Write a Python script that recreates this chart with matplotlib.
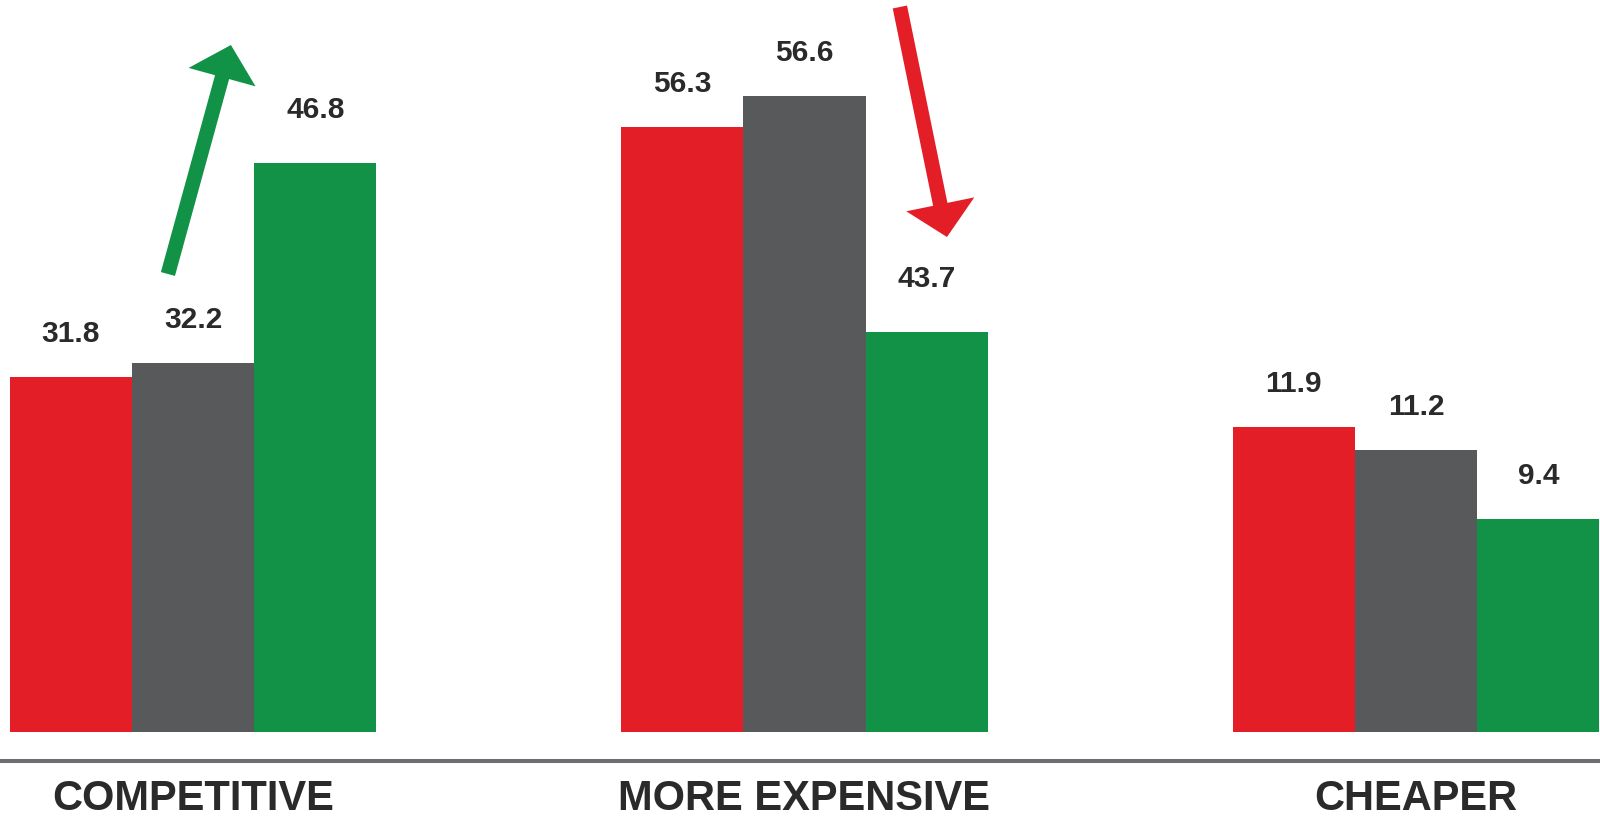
import matplotlib
matplotlib.use("Agg")
import matplotlib.pyplot as plt
from matplotlib.patches import FancyArrowPatch
import numpy as np

# ---- data ----
categories = ["COMPETITIVE", "MORE EXPENSIVE", "CHEAPER"]
red_values = [31.8, 56.3, 11.9]
gray_values = [32.2, 56.6, 11.2]
green_values = [46.8, 43.7, 9.4]
# bar heights as drawn in the infographic (not proportional to the labels)
red_heights = [35.5, 60.5, 30.5]
gray_heights = [36.9, 63.6, 28.2]
green_heights = [56.9, 40.0, 21.3]

# ---- style ----
RED = "#e31e26"
GRAY = "#58595b"
GREEN = "#129247"
TXT = "#2a2a2a"
FONT = ["Liberation Sans", "DejaVu Sans"]

fig = plt.figure(figsize=(16, 8.2), dpi=100)
ax = fig.add_axes([0, 0, 1, 1])
ax.set_xlim(-0.3156, 2.3009)
ax.set_ylim(-8.7, 73.3)
ax.axis("off")

x = np.arange(len(categories))
w = 0.2
series = [
    (red_heights, red_values, RED, -w),
    (gray_heights, gray_values, GRAY, 0.0),
    (green_heights, green_values, GREEN, w),
]
for si, (heights, values, color, off) in enumerate(series):
    ax.bar(x + off, heights, width=w, color=color, linewidth=0)
    for i, (h, v) in enumerate(zip(heights, values)):
        gap = 3.6
        if si == 2 and i < 2:
            gap = 4.6
        ax.text(x[i] + off, h + gap, f"{v:.1f}", ha="center", va="baseline",
                fontsize=21.5, fontweight="bold", color=TXT, family=FONT)

# baseline rule
ax.axhline(-2.9, color="#6d6e71", linewidth=2.9)

# category labels
for i, c in enumerate(categories):
    ax.text(x[i], -7.75, c, ha="center", va="baseline", fontsize=30,
            fontweight="bold", color=TXT, family=FONT)

# arrows
style = "simple,head_width=5.0,head_length=2.4,tail_width=1.05"
arr_up = FancyArrowPatch((-0.041, 45.8), (0.062, 68.7), arrowstyle=style,
                         mutation_scale=10, color=GREEN, shrinkA=0, shrinkB=0,
                         linewidth=0)
arr_dn = FancyArrowPatch((1.156, 72.5), (1.233, 49.5), arrowstyle=style,
                         mutation_scale=10, color=RED, shrinkA=0, shrinkB=0,
                         linewidth=0)
ax.add_patch(arr_up)
ax.add_patch(arr_dn)

fig.savefig("out.png", dpi=100, facecolor="white")
